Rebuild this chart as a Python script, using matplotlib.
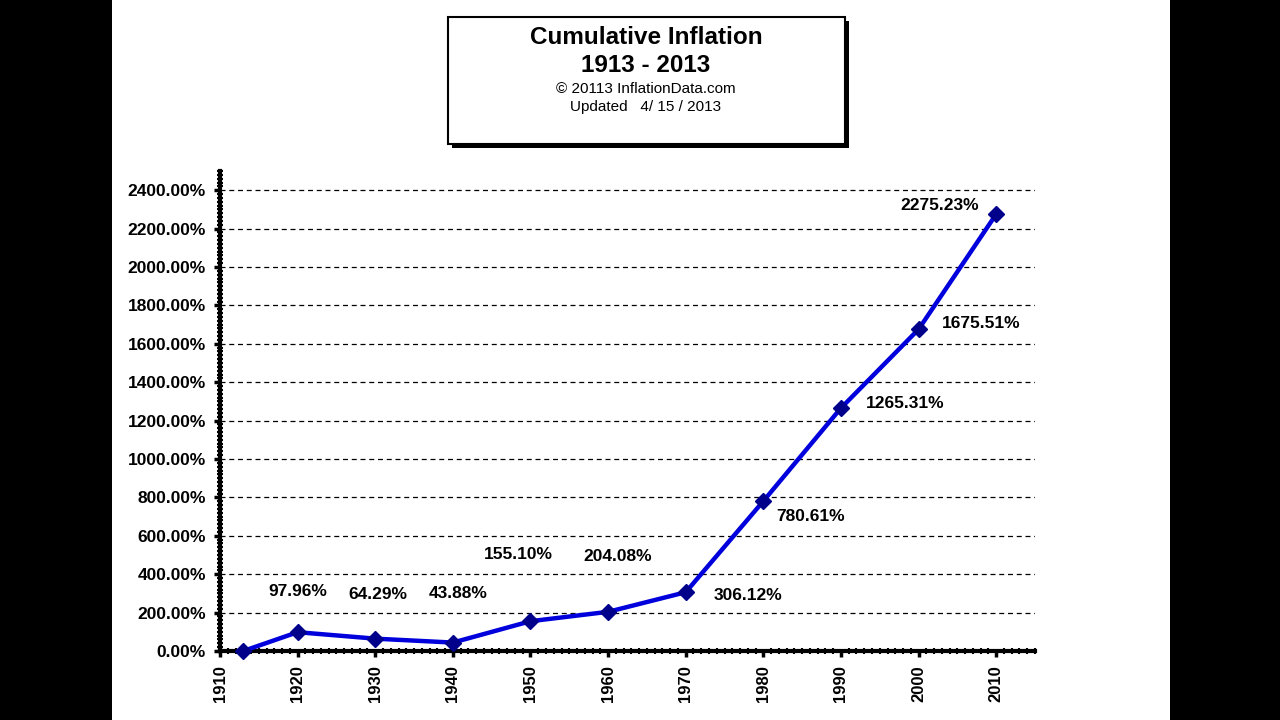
# Cumulative inflation chart, 1913 - 2013
import numpy as np
import matplotlib.pyplot as plt
from matplotlib.patches import Rectangle
from matplotlib.ticker import MultipleLocator, FuncFormatter

# data
years = [1913, 1920, 1930, 1940, 1950, 1960, 1970, 1980, 1990, 2000, 2010]
inflation = [0.0, 97.96, 64.29, 43.88, 155.10, 204.08, 306.12, 780.61, 1265.31, 1675.51, 2275.23]
point_labels = ["", "97.96%", "64.29%", "43.88%", "155.10%", "204.08%", "306.12%",
                "780.61%", "1265.31%", "1675.51%", "2275.23%"]
# label offsets in points from each point
label_offsets = [(0, 0), (0, 29), (2, 32), (4, 35), (-9, 48), (7, 40), (45, -2),
                 (34, -11), (46, 3), (45, 4), (-41, 6)]

plt.rcParams['font.family'] = ['Liberation Sans', 'DejaVu Sans']

fig = plt.figure(figsize=(12.8, 7.2), dpi=100)
fig.patch.set_facecolor("black")
# white page between the black side bars
fig.patches.append(Rectangle((112/1280, 0), (1170-112)/1280, 1, transform=fig.transFigure,
                             facecolor="white", edgecolor="none", zorder=-10))

# title box with drop shadow
fig.patches.append(Rectangle((452/1280, 1-148/720), 397/1280, 127/720, transform=fig.transFigure,
                             facecolor="black", edgecolor="none", zorder=1))
fig.patches.append(Rectangle((448/1280, 1-144/720), 397/1280, 127/720, transform=fig.transFigure,
                             facecolor="white", edgecolor="black", linewidth=1.5, zorder=2))
cx = 646/1280
fig.text(cx, 1-37/720, "Cumulative Inflation", ha="center", va="center", fontsize=17.5, fontweight="bold", zorder=3)
fig.text(cx, 1-66/720, "1913 - 2013", ha="center", va="center", fontsize=17.5, fontweight="bold", zorder=3)
fig.text(cx, 1-89/720, "© 20113 InflationData.com", ha="center", va="center", fontsize=11, zorder=3)
fig.text(cx, 1-107/720, "Updated   4/ 15 / 2013", ha="center", va="center", fontsize=11, zorder=3)

ax = fig.add_axes([220/1280, 69/720, (1035-220)/1280, 480/720])
ax.set_facecolor("white")
ax.plot(years, inflation, color="#0000dd", linewidth=3.2, zorder=3)
ax.plot(years, inflation, linestyle="none", marker="D", markersize=8,
        color="#00008b", zorder=4, clip_on=False)

for x, y, txt, off in zip(years, inflation, point_labels, label_offsets):
    if txt:
        ax.annotate(txt, (x, y), xytext=off, textcoords="offset points",
                    ha="center", va="center", fontsize=12.5, fontweight="bold")

ax.set_xlim(1910, 2015)
ax.set_ylim(0, 2500)
ax.set_xticks(np.arange(1910, 2011, 10))
ax.set_yticks(np.arange(0, 2401, 200))
ax.xaxis.set_minor_locator(MultipleLocator(1))
ax.yaxis.set_minor_locator(MultipleLocator(20))
ax.yaxis.set_major_formatter(FuncFormatter(lambda v, p: "%.2f%%" % v))

for s in ["top", "right"]:
    ax.spines[s].set_visible(False)
for s in ["left", "bottom"]:
    ax.spines[s].set_linewidth(3)

ax.tick_params(axis="both", which="major", direction="out", length=4, width=2.5,
               labelsize=12.5, pad=6)
ax.tick_params(axis="x", pad=6, labelsize=12)
ax.tick_params(axis="both", which="minor", direction="inout", length=4, width=1.5)
ax.tick_params(axis="x", labelrotation=90)
for lab in ax.get_xticklabels() + ax.get_yticklabels():
    lab.set_fontweight("bold")

for v in np.arange(200, 2401, 200):
    ax.axhline(v, color="black", linestyle=(0, (4, 3)), linewidth=0.9, zorder=1)

fig.savefig("out.png", dpi=100, facecolor=fig.get_facecolor())
